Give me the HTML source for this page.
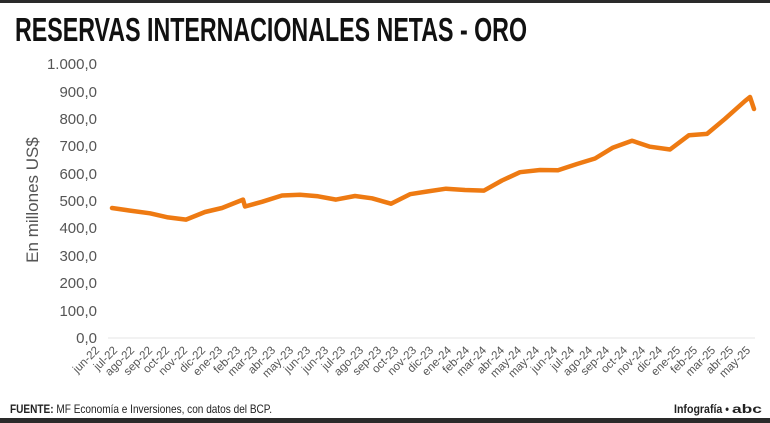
<!DOCTYPE html>
<html><head><meta charset="utf-8"><style>
body{margin:0;background:#fff;}
svg{display:block;}
</style></head><body>
<svg width="770" height="423" xmlns="http://www.w3.org/2000/svg" font-family="Liberation Sans, sans-serif">
<rect x="0" y="0" width="770" height="3" fill="#2a2a2a"/>
<rect x="0" y="418" width="770" height="5" fill="#2a2a2a"/>
<text x="15" y="41" font-size="33" font-weight="bold" fill="#111" textLength="512" lengthAdjust="spacingAndGlyphs">RESERVAS INTERNACIONALES NETAS - ORO</text>
<line x1="108" x2="755" y1="338" y2="338" stroke="#e6e6e6" stroke-width="1"/>
<g font-size="15" fill="#555" text-anchor="end">
<text x="97" y="343">0,0</text>
<text x="97" y="316">100,0</text>
<text x="97" y="288">200,0</text>
<text x="97" y="261">300,0</text>
<text x="97" y="233">400,0</text>
<text x="97" y="206">500,0</text>
<text x="97" y="179">600,0</text>
<text x="97" y="151">700,0</text>
<text x="97" y="124">800,0</text>
<text x="97" y="97">900,0</text>
<text x="97" y="69">1.000,0</text>
</g>
<text transform="translate(38,200) rotate(-90)" font-size="17" fill="#555" text-anchor="middle">En millones US$</text>
<polyline fill="none" stroke="#ee7a12" stroke-width="4.5" stroke-linejoin="round" stroke-linecap="round" points="112,208 130,210.6 150,213.3 168,217.4 186,219.6 205,212 222,208 243,199.6 245,206.5 262,201.8 282,195.5 300,194.7 318,196.3 336,199.6 355,196 372,198.3 391,203.7 410,194.2 428,191.4 446,188.7 465,190 484,190.6 502,180.5 520,172.2 540,170 558,170.3 577,164 595,158.5 613,147.6 632,140.7 650,146.7 670,149.5 689,135.2 707,133.9 725,118.8 745,101 750,97 754,109"/>
<g font-size="11.5" fill="#555" text-anchor="end">
<text transform="translate(100,351) rotate(-45)">jun-22</text>
<text transform="translate(118,351) rotate(-45)">jul-22</text>
<text transform="translate(135,351) rotate(-45)">ago-22</text>
<text transform="translate(153,351) rotate(-45)">sep-22</text>
<text transform="translate(170,351) rotate(-45)">oct-22</text>
<text transform="translate(188,351) rotate(-45)">nov-22</text>
<text transform="translate(206,351) rotate(-45)">dic-22</text>
<text transform="translate(223,351) rotate(-45)">ene-23</text>
<text transform="translate(241,351) rotate(-45)">feb-23</text>
<text transform="translate(258,351) rotate(-45)">mar-23</text>
<text transform="translate(276,351) rotate(-45)">abr-23</text>
<text transform="translate(294,351) rotate(-45)">may-23</text>
<text transform="translate(311,351) rotate(-45)">jun-23</text>
<text transform="translate(329,351) rotate(-45)">jun-23</text>
<text transform="translate(346,351) rotate(-45)">jul-23</text>
<text transform="translate(364,351) rotate(-45)">ago-23</text>
<text transform="translate(382,351) rotate(-45)">sep-23</text>
<text transform="translate(399,351) rotate(-45)">oct-23</text>
<text transform="translate(417,351) rotate(-45)">nov-23</text>
<text transform="translate(434,351) rotate(-45)">dic-23</text>
<text transform="translate(452,351) rotate(-45)">ene-24</text>
<text transform="translate(470,351) rotate(-45)">feb-24</text>
<text transform="translate(487,351) rotate(-45)">mar-24</text>
<text transform="translate(505,351) rotate(-45)">abr-24</text>
<text transform="translate(522,351) rotate(-45)">may-24</text>
<text transform="translate(540,351) rotate(-45)">may-24</text>
<text transform="translate(558,351) rotate(-45)">jun-24</text>
<text transform="translate(575,351) rotate(-45)">jul-24</text>
<text transform="translate(593,351) rotate(-45)">ago-24</text>
<text transform="translate(610,351) rotate(-45)">sep-24</text>
<text transform="translate(628,351) rotate(-45)">oct-24</text>
<text transform="translate(646,351) rotate(-45)">nov-24</text>
<text transform="translate(663,351) rotate(-45)">dic-24</text>
<text transform="translate(681,351) rotate(-45)">ene-25</text>
<text transform="translate(698,351) rotate(-45)">feb-25</text>
<text transform="translate(716,351) rotate(-45)">mar-25</text>
<text transform="translate(734,351) rotate(-45)">abr-25</text>
<text transform="translate(751,351) rotate(-45)">may-25</text>
</g>
<text x="10" y="413" font-size="12" fill="#222" textLength="262" lengthAdjust="spacingAndGlyphs"><tspan font-weight="bold">FUENTE:</tspan> MF Economía e Inversiones, con datos del BCP.</text>
<text x="674" y="413" font-size="12" font-weight="bold" fill="#222" textLength="55" lengthAdjust="spacingAndGlyphs">Infografía •</text>
<text x="732" y="413" font-size="12" font-weight="bold" fill="#222" textLength="30" lengthAdjust="spacingAndGlyphs">abc</text>
</svg>
</body></html>
